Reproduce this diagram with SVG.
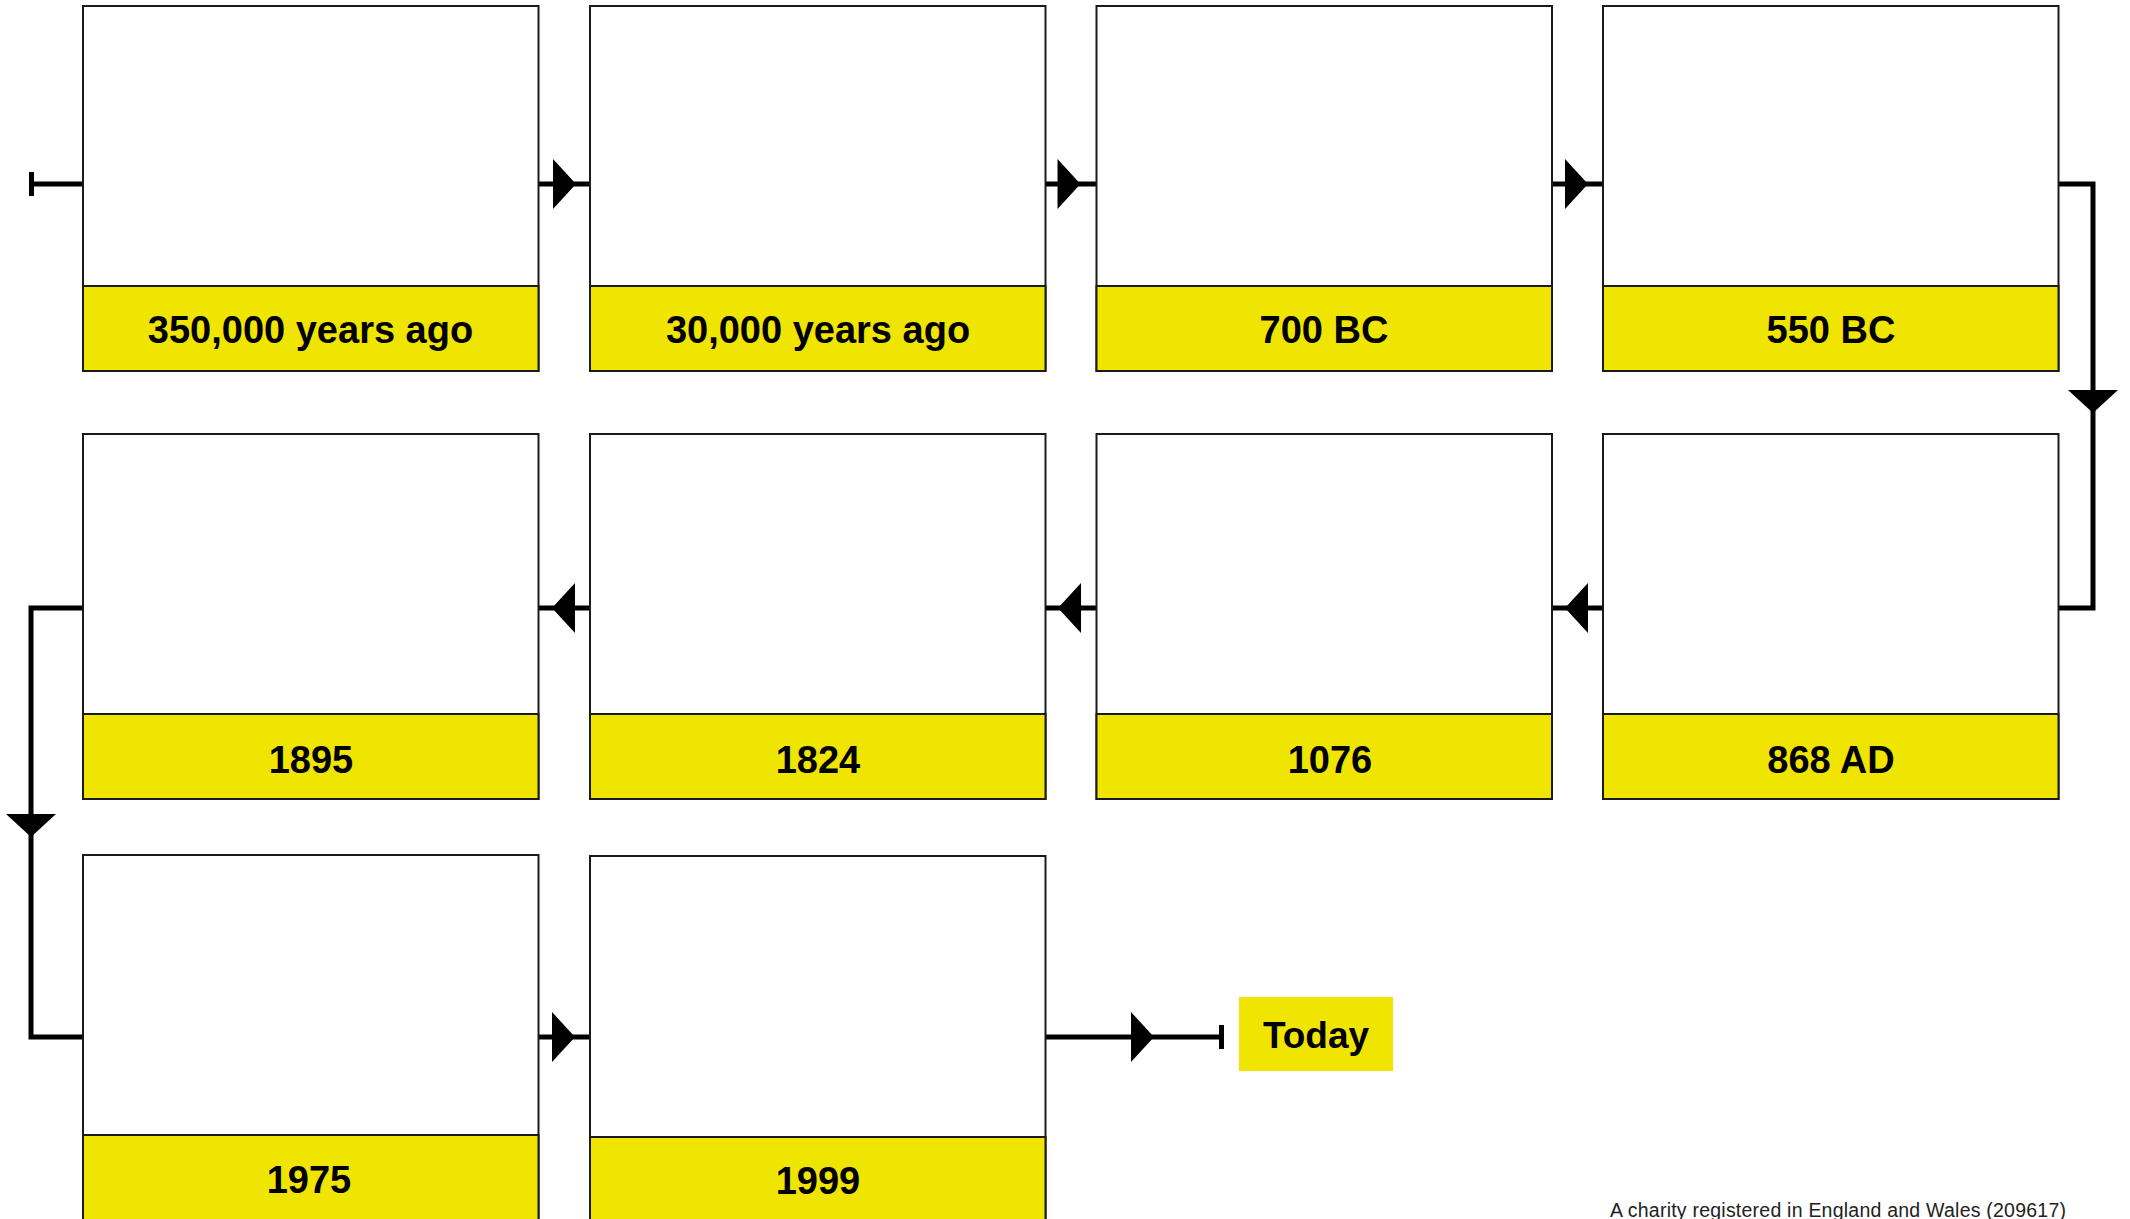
<svg xmlns="http://www.w3.org/2000/svg" xmlns:xlink="http://www.w3.org/1999/xlink" width="2130" height="1219" viewBox="0 0 2130 1219">
<style>
.card{fill:#ffffff;stroke:#1a1a1a;stroke-width:2}
.band{fill:#f0e500;stroke:#1a1a1a;stroke-width:2}
.lbl{font-family:"Liberation Sans",Arial,sans-serif;font-weight:bold;font-size:38px;fill:#000;text-anchor:middle}
.conn{fill:none;stroke:#000;stroke-width:5}
.ah{fill:#000;stroke:none}
.note{font-family:"Liberation Sans",Arial,sans-serif;font-size:19.5px;fill:#222}
</style>
<defs>
<polygon id="ah" class="ah" points="0,-25 23,0 0,25"/>
</defs>
<rect width="2130" height="1219" fill="#ffffff"/>

<g id="connectors">
<line class="conn" x1="31" y1="184" x2="83" y2="184"/>
<line class="conn" x1="31.5" y1="172" x2="31.5" y2="196"/>
<line class="conn" x1="538.5" y1="184" x2="590" y2="184"/>
<use xlink:href="#ah" transform="translate(553,184)"/>
<line class="conn" x1="1045.5" y1="184" x2="1096.5" y2="184"/>
<use xlink:href="#ah" transform="translate(1057.5,184)"/>
<line class="conn" x1="1552" y1="184" x2="1603" y2="184"/>
<use xlink:href="#ah" transform="translate(1565,184)"/>
<path class="conn" d="M2058.5,184 H2093 V608 H2058.5"/>
<use xlink:href="#ah" transform="translate(2093,390) rotate(90)"/>
<line class="conn" x1="1603" y1="608" x2="1552" y2="608"/>
<use xlink:href="#ah" transform="translate(1588,608) rotate(180)"/>
<line class="conn" x1="1096.5" y1="608" x2="1045.5" y2="608"/>
<use xlink:href="#ah" transform="translate(1081,608) rotate(180)"/>
<line class="conn" x1="590" y1="608" x2="538.5" y2="608"/>
<use xlink:href="#ah" transform="translate(575,608) rotate(180)"/>
<path class="conn" d="M83,608 H31 V1037 H83"/>
<use xlink:href="#ah" transform="translate(31,814) rotate(90)"/>
<line class="conn" x1="538.5" y1="1037" x2="590" y2="1037"/>
<use xlink:href="#ah" transform="translate(552,1037)"/>
<line class="conn" x1="1045.5" y1="1037" x2="1222" y2="1037"/>
<use xlink:href="#ah" transform="translate(1131,1037)"/>
<line class="conn" x1="1221.5" y1="1025" x2="1221.5" y2="1049"/>
</g>

<g id="n1"><rect class="card" x="83" y="6" width="455.5" height="365"/><rect class="band" x="83" y="286" width="455.5" height="85"/><text class="lbl" x="310.5" y="343">350,000 years ago</text></g>
<g id="n2"><rect class="card" x="590" y="6" width="455.5" height="365"/><rect class="band" x="590" y="286" width="455.5" height="85"/><text class="lbl" x="818" y="343">30,000 years ago</text></g>
<g id="n3"><rect class="card" x="1096.5" y="6" width="455.5" height="365"/><rect class="band" x="1096.5" y="286" width="455.5" height="85"/><text class="lbl" x="1324" y="343">700 BC</text></g>
<g id="n4"><rect class="card" x="1603" y="6" width="455.5" height="365"/><rect class="band" x="1603" y="286" width="455.5" height="85"/><text class="lbl" x="1831" y="343">550 BC</text></g>

<g id="n5"><rect class="card" x="83" y="434" width="455.5" height="365"/><rect class="band" x="83" y="714" width="455.5" height="85"/><text class="lbl" x="311" y="773">1895</text></g>
<g id="n6"><rect class="card" x="590" y="434" width="455.5" height="365"/><rect class="band" x="590" y="714" width="455.5" height="85"/><text class="lbl" x="818" y="773">1824</text></g>
<g id="n7"><rect class="card" x="1096.5" y="434" width="455.5" height="365"/><rect class="band" x="1096.5" y="714" width="455.5" height="85"/><text class="lbl" x="1330" y="773">1076</text></g>
<g id="n8"><rect class="card" x="1603" y="434" width="455.5" height="365"/><rect class="band" x="1603" y="714" width="455.5" height="85"/><text class="lbl" x="1831" y="773">868 AD</text></g>

<g id="n9"><rect class="card" x="83" y="855" width="455.5" height="365"/><rect class="band" x="83" y="1135" width="455.5" height="85"/><text class="lbl" x="309" y="1193">1975</text></g>
<g id="n10"><rect class="card" x="590" y="856" width="455.5" height="365"/><rect class="band" x="590" y="1137" width="455.5" height="85"/><text class="lbl" x="818" y="1194">1999</text></g>

<g id="today"><rect x="1239" y="997" width="154" height="74" fill="#f0e500"/><text class="lbl" x="1316" y="1048" style="font-size:37px">Today</text></g>

<text class="note" x="1610" y="1217" textLength="456" lengthAdjust="spacing">A charity registered in England and Wales (209617)</text>
</svg>
